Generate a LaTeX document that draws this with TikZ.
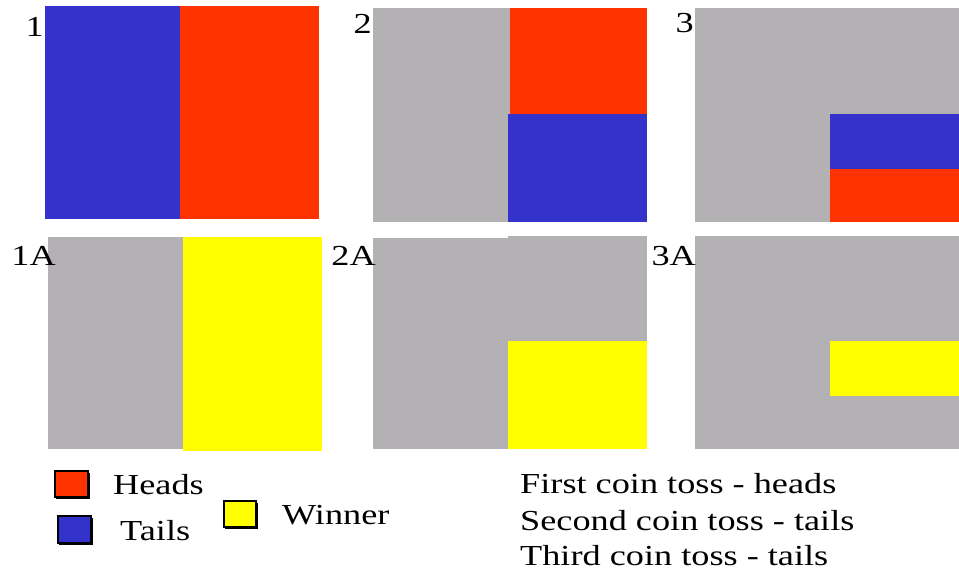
\documentclass[tikz,border=0pt]{standalone}
\usepackage{fontspec}
\usepackage{graphicx}
\setmainfont{Liberation Serif}
\definecolor{cblue}{RGB}{51,51,204}
\definecolor{cred}{RGB}{255,51,0}
\definecolor{cgray}{RGB}{179,177,180}
\definecolor{cyellow}{RGB}{255,255,0}
\newcommand\widetxt[1]{\scalebox{1.25}[1]{#1}}
\tikzset{
  txt/.style={inner sep=0pt, font=\fontsize{29}{34}\selectfont},
  panel/.style={fill=cgray},
  shadowbox/.style={fill=black},
  keybox/.style={draw=black, line width=1.5pt}
}
\begin{document}
\begin{tikzpicture}[x=1pt,y=-1pt]
\useasboundingbox (0,0) rectangle (959,573);
\fill[white] (0,0) rectangle (959,573);
% Panel 1
\fill[cblue] (45,6) rectangle (180,219);
\fill[cred] (180,6) rectangle (319,219);
% Panel 2
\fill[cgray] (373,8) rectangle (647,222);
\fill[cred] (510,8) rectangle (647,114);
\fill[cblue] (508,114) rectangle (647,222);
% Panel 3
\fill[cgray] (695,8) rectangle (959,222);
\fill[cblue] (830,114) rectangle (959,169);
\fill[cred] (830,169) rectangle (959,222);
% Panel 1A
\fill[cgray] (48,237) rectangle (183,449);
\fill[cyellow] (183,237) rectangle (322,451);
% Panel 2A
\fill[cgray] (373,238) rectangle (508,449);
\fill[cgray] (508,236) rectangle (647,449);
\fill[cyellow] (508,341) rectangle (647,449);
% Panel 3A
\fill[cgray] (695,236) rectangle (959,449);
\fill[cyellow] (830,341) rectangle (959,396);
% Panel labels
\node[txt, anchor=base east] (l1) at (44,36) {\widetxt{1}};
\node[txt, anchor=base east] (l2) at (372,33) {\widetxt{2}};
\node[txt, anchor=base east] (l3) at (694,32) {\widetxt{3}};
\node[txt, anchor=base east] (l1a) at (56,265) {\widetxt{1A}};
\node[txt, anchor=base east] (l2a) at (376,265) {\widetxt{2A}};
\node[txt, anchor=base east] (l3a) at (696,265) {\widetxt{3A}};
% Legend
\fill[shadowbox] (56,473) rectangle (90,499);
\draw[keybox, fill=cred] (55,471) rectangle (88,497);
\fill[shadowbox] (59,518) rectangle (93,545);
\draw[keybox, fill=cblue] (58,516) rectangle (91,543);
\fill[shadowbox] (225,503) rectangle (258,529);
\draw[keybox, fill=cyellow] (224,501) rectangle (256,527);
\node[txt, anchor=base west] (heads) at (113,494) {\widetxt{Heads}};
\node[txt, anchor=base west] (tails) at (120,540) {\widetxt{Tails}};
\node[txt, anchor=base west] (winner) at (282,524) {\widetxt{Winner}};
% Description
\node[txt, anchor=base west] (d1) at (520,493) {\widetxt{First coin toss - heads}};
\node[txt, anchor=base west] (d2) at (520,530) {\widetxt{Second coin toss - tails}};
\node[txt, anchor=base west] (d3) at (520,565) {\widetxt{Third coin toss - tails}};
\end{tikzpicture}
\end{document}
